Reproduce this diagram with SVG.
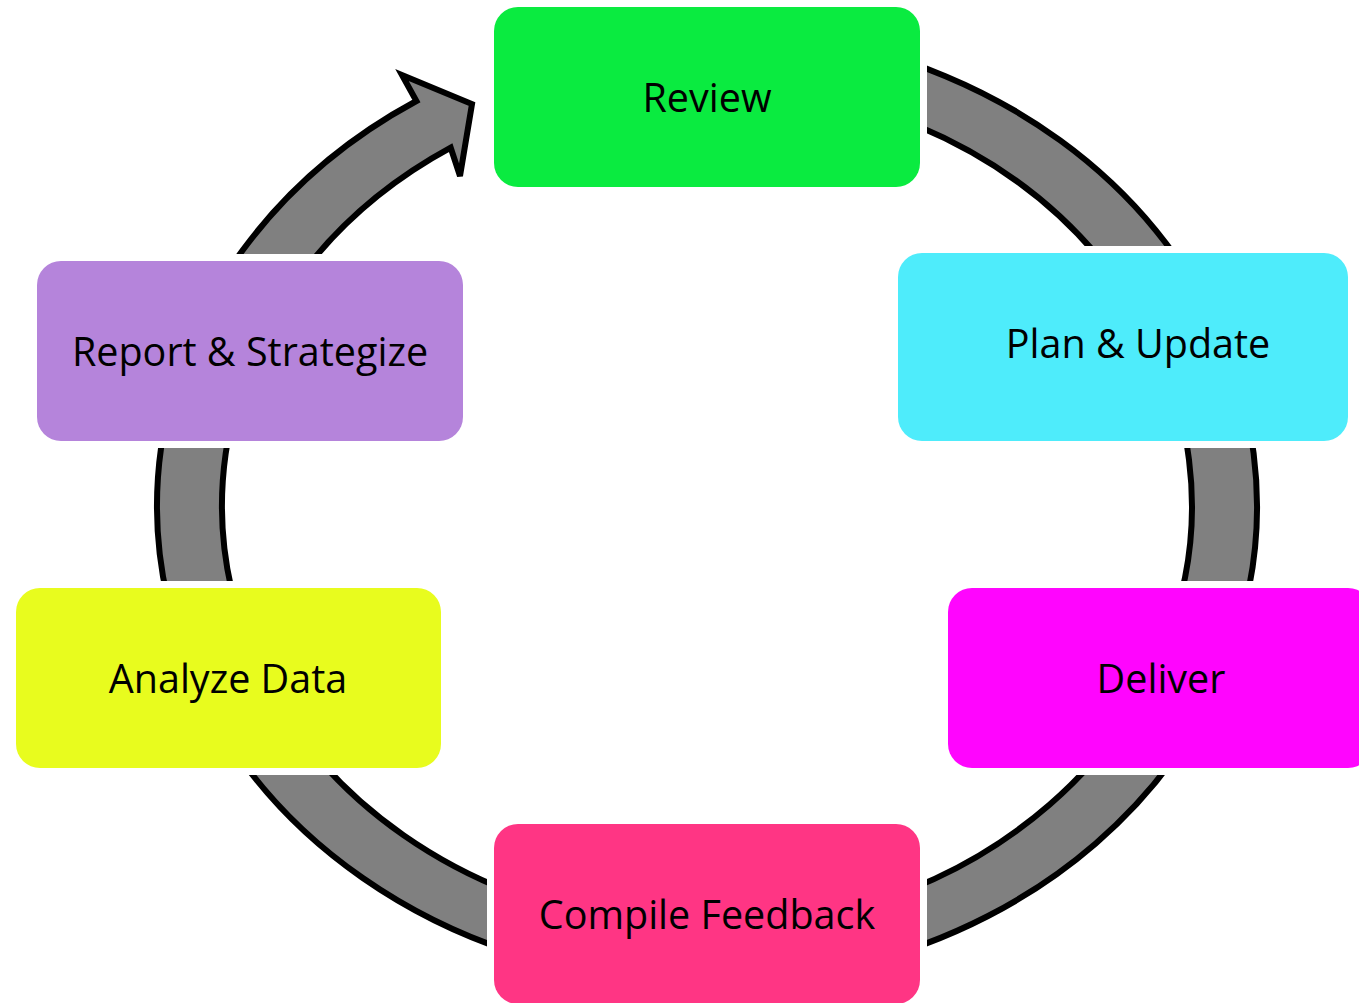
<svg xmlns="http://www.w3.org/2000/svg" width="1359" height="1003" viewBox="0 0 1359 1003">
<style>
.box{stroke:#fff;stroke-width:14;paint-order:stroke}
.lbl{font-family:"Open Sans","Liberation Sans",sans-serif;font-size:39.5px;fill:#000;text-anchor:middle}
.ring{fill:#808080;stroke:#000;stroke-width:6;stroke-linejoin:miter}
</style>
<rect width="1359" height="1003" fill="#fff"/>
<g id="connectors">
<path class="ring" d="M707,29 A550,477 0 1 1 416.4,101 L402,75 L472,104 L460,176 L450.7,147.7 A485,422 0 1 0 707,84 Z"/>
</g>
<g id="review"><rect class="box" x="494" y="7" width="426" height="180" rx="24" fill="#0AEB40"/><text class="lbl" x="707" y="112">Review</text></g>
<g id="plan"><rect class="box" x="898" y="253" width="450" height="188" rx="24" fill="#4EECFB"/><text class="lbl" x="1138" y="358">Plan &amp; Update</text></g>
<g id="deliver"><rect class="box" x="948" y="588" width="424" height="180" rx="24" fill="#FF05FE"/><text class="lbl" x="1161" y="693">Deliver</text></g>
<g id="compile"><rect class="box" x="494" y="824" width="426" height="180" rx="24" fill="#FF3584"/><text class="lbl" x="707" y="929">Compile Feedback</text></g>
<g id="analyze"><rect class="box" x="16" y="588" width="425" height="180" rx="24" fill="#E8FC1E"/><text class="lbl" x="228" y="693">Analyze Data</text></g>
<g id="report"><rect class="box" x="37" y="261" width="426" height="180" rx="24" fill="#B584DB"/><text class="lbl" x="250" y="366">Report &amp; Strategize</text></g>
</svg>
